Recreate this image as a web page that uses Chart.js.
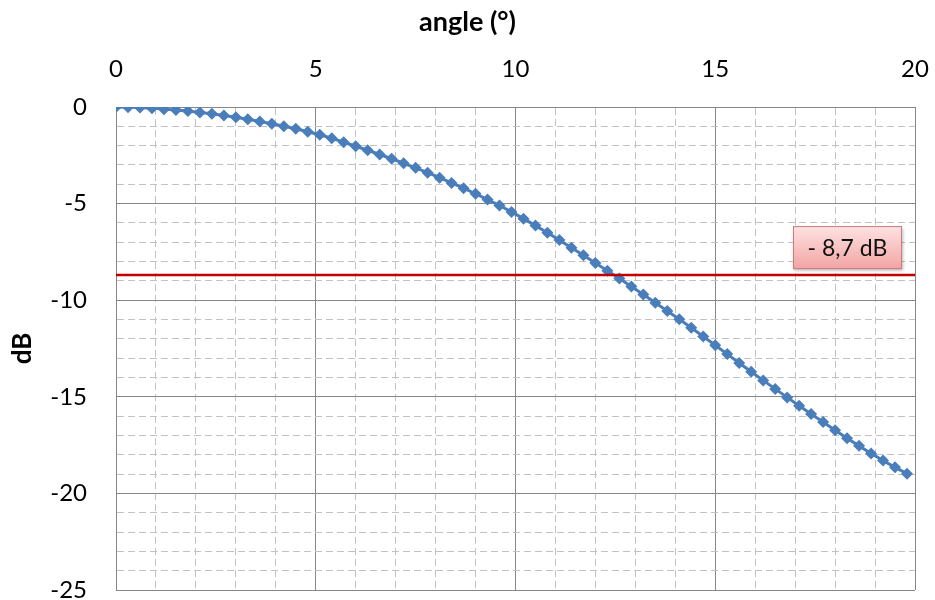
<!DOCTYPE html>
<html>
<head>
<meta charset="utf-8">
<script src="https://cdn.jsdelivr.net/npm/chart.js@4.4.0/dist/chart.umd.min.js"></script>
<style>
html,body{margin:0;padding:0;background:#fff;}
#wrap{width:935px;height:600px;position:relative;}
</style>
</head>
<body>
<div id="wrap"><canvas id="c" width="935" height="600"></canvas></div>
<script>
// ---- data ----
const angles = [
  0.0, 0.3, 0.6, 0.9, 1.2, 1.5, 1.8, 2.1, 2.4, 2.7,
  3.0, 3.3, 3.6, 3.9, 4.2, 4.5, 4.8, 5.1, 5.4, 5.7,
  6.0, 6.3, 6.6, 6.9, 7.2, 7.5, 7.8, 8.1, 8.4, 8.7,
  9.0, 9.3, 9.6, 9.9, 10.2, 10.5, 10.8, 11.1, 11.4, 11.7,
  12.0, 12.3, 12.6, 12.9, 13.2, 13.5, 13.8, 14.1, 14.4, 14.7,
  15.0, 15.3, 15.6, 15.9, 16.2, 16.5, 16.8, 17.1, 17.4, 17.7,
  18.0, 18.3, 18.6, 18.9, 19.2, 19.5, 19.8
];
const dbValues = [
  0.00, -0.01, -0.03, -0.07, -0.11, -0.15, -0.21, -0.28, -0.35, -0.44,
  -0.53, -0.63, -0.75, -0.87, -1.00, -1.13, -1.28, -1.44, -1.62, -1.82,
  -2.03, -2.24, -2.46, -2.68, -2.91, -3.15, -3.40, -3.66, -3.93, -4.20,
  -4.49, -4.79, -5.10, -5.43, -5.78, -6.14, -6.51, -6.89, -7.28, -7.67,
  -8.07, -8.47, -8.88, -9.29, -9.71, -10.13, -10.56, -10.99, -11.43, -11.88,
  -12.33, -12.79, -13.25, -13.70, -14.15, -14.59, -15.03, -15.46, -15.89, -16.31,
  -16.73, -17.14, -17.54, -17.93, -18.30, -18.65, -18.98
];
const refLevel = -8.7;
const refLabel = '- 8,7 dB';
const xTickLabels = [0, 5, 10, 15, 20];
const yTickLabels = [0, -5, -10, -15, -20, -25];
const xTitle = 'angle (°)';
const yTitle = 'dB';

// ---- styling ----
const FONT = 'Lato';
const MAJOR = '#878787';
const MINOR = '#c2c2c2';
const isMajor = (ctx) => ctx && ctx.tick && Math.abs(ctx.tick.value % 5) < 1e-9;
const dashFn = (ctx) => (ctx && ctx.tick && !isMajor(ctx)) ? [7, 4] : [];

const refBoxPlugin = {
  id: 'refBox',
  afterDatasetsDraw(chart) {
    const {ctx, chartArea, scales} = chart;
    const yy = scales.y.getPixelForValue(refLevel);
    const right = chartArea.right - 13;
    const left = right - 109;
    const bottom = yy - 6;
    const top = bottom - 43;
    ctx.save();
    ctx.shadowColor = 'rgba(0,0,0,0.28)';
    ctx.shadowBlur = 3;
    ctx.shadowOffsetX = 1;
    ctx.shadowOffsetY = 1.5;
    const g = ctx.createLinearGradient(0, top, 0, bottom);
    g.addColorStop(0, '#fde3e3');
    g.addColorStop(1, '#f3a3a3');
    ctx.fillStyle = g;
    ctx.fillRect(left, top, right - left, bottom - top);
    ctx.shadowColor = 'transparent';
    ctx.strokeStyle = '#d07a7a';
    ctx.lineWidth = 1;
    ctx.strokeRect(left + 0.5, top + 0.5, right - left - 1, bottom - top - 1);
    ctx.fillStyle = '#111';
    ctx.font = '23px ' + FONT;
    ctx.textAlign = 'center';
    ctx.textBaseline = 'middle';
    ctx.fillText(refLabel, (left + right) / 2, (top + bottom) / 2 + 1);
    ctx.restore();
  }
};

function build() {
  new Chart(document.getElementById('c'), {
    type: 'line',
    data: {
      datasets: [
        {
          data: angles.map((a, i) => ({x: a, y: dbValues[i]})),
          borderColor: '#4a7ebb',
          backgroundColor: '#4a7ebb',
          borderWidth: 3,
          pointStyle: 'rectRot',
          pointRadius: 6,
          pointBorderWidth: 0,
          pointBackgroundColor: '#4a7ebb',
          tension: 0,
          order: 2
        },
        {
          data: [{x: 0, y: refLevel}, {x: 20, y: refLevel}],
          borderColor: '#c00000',
          borderWidth: 2.5,
          pointRadius: 0,
          tension: 0,
          order: 1
        }
      ]
    },
    options: {
      responsive: false,
      animation: false,
      layout: {padding: {top: 0, left: 0, right: 0, bottom: 10}},
      plugins: {
        legend: {display: false},
        tooltip: {enabled: false},
        title: {
          display: true, text: xTitle, color: '#000',
          font: {family: FONT, size: 27, weight: 'bold', lineHeight: 1.2},
          padding: {top: 6, bottom: 0}
        }
      },
      scales: {
        x: {
          type: 'linear',
          position: 'top',
          min: 0, max: 20,
          afterFit: (s) => { s.height = 107 - 38.4; s.paddingLeft = 0; s.paddingRight = 20; },
          ticks: {
            stepSize: 1, autoSkip: false, maxRotation: 0,
            padding: 23,
            color: '#000',
            font: {family: FONT, size: 24},
            callback: (v) => xTickLabels.includes(v) ? String(v) : ''
          },
          grid: {
            drawTicks: false,
            color: (ctx) => isMajor(ctx) ? MAJOR : MINOR,
            lineWidth: 1,
            dash: dashFn
          },
          border: {color: MAJOR, width: 1, dash: dashFn}
        },
        y: {
          type: 'linear',
          position: 'left',
          min: -25, max: 0,
          afterFit: (s) => { s.width = 116; s.paddingTop = 0; s.paddingBottom = 0; },
          ticks: {
            stepSize: 1, autoSkip: false,
            padding: 29,
            color: '#000',
            font: {family: FONT, size: 24},
            callback: (v) => yTickLabels.includes(v) ? String(v) : ''
          },
          grid: {
            drawTicks: false,
            color: (ctx) => isMajor(ctx) ? MAJOR : MINOR,
            lineWidth: 1,
            dash: dashFn
          },
          border: {color: MAJOR, width: 1, dash: dashFn},
          title: {
            display: true, text: yTitle, color: '#000',
            font: {family: FONT, size: 26, weight: 'bold'},
            padding: {top: 7, bottom: 0}
          }
        }
      }
    },
    plugins: [refBoxPlugin]
  });
}

Promise.all([
  document.fonts.load('24px Lato'),
  document.fonts.load('bold 27px Lato')
]).then(build, build);
</script>
</body>
</html>
